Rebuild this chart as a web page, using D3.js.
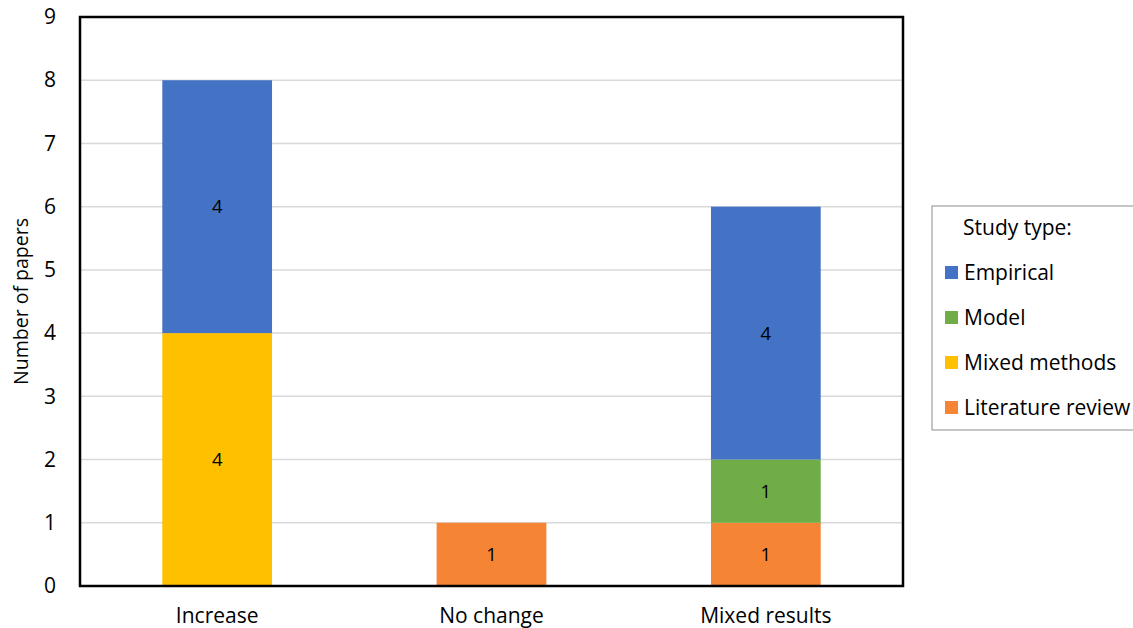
<!DOCTYPE html>
<html>
<head>
<meta charset="utf-8">
<script src="https://cdn.jsdelivr.net/npm/d3@7"></script>
<style>
  html, body { margin: 0; padding: 0; background: #fff; }
  svg { display: block; font-family: "Open Sans", "Noto Sans", sans-serif; }
</style>
</head>
<body>
<svg id="chart" width="1133" height="628"></svg>
<script>
// Outcome categories along the x axis
const categories = ["Increase", "No change", "Mixed results"];
// Study types, listed bottom-to-top in each stack
const studyTypes = ["Literature review", "Mixed methods", "Model", "Empirical"];
// Number of papers per study type, one value per category
const literatureReview = [0, 1, 1];
const mixedMethods = [4, 0, 0];
const model = [0, 0, 1];
const empirical = [4, 0, 4];
const yTicks = [0, 1, 2, 3, 4, 5, 6, 7, 8, 9];
const legendOrder = ["Empirical", "Model", "Mixed methods", "Literature review"];

const colors = {
  "Empirical": "#4472C4",
  "Model": "#70AD47",
  "Mixed methods": "#FFC000",
  "Literature review": "#F58535"
};

const seriesValues = {
  "Literature review": literatureReview,
  "Mixed methods": mixedMethods,
  "Model": model,
  "Empirical": empirical
};

const rows = categories.map((c, i) => {
  const r = { category: c };
  studyTypes.forEach(t => r[t] = seriesValues[t][i]);
  return r;
});

const svg = d3.select("#chart");
const margin = { left: 80, right: 230, top: 17, bottom: 42 };
const W = 1133, H = 628;
const x0 = margin.left, x1 = W - margin.right;
const y0 = H - margin.bottom, y1 = margin.top;

const x = d3.scaleBand().domain(categories).range([x0, x1]).paddingInner(0.6).paddingOuter(0.3);
const y = d3.scaleLinear().domain([0, 9]).range([y0, y1]);

// Horizontal gridlines
svg.append("g")
  .selectAll("line")
  .data(yTicks.filter(t => t > 0 && t < 9))
  .join("line")
  .attr("x1", x0).attr("x2", x1)
  .attr("y1", d => y(d)).attr("y2", d => y(d))
  .attr("stroke", "#d9d9d9").attr("stroke-width", 1.5);

// Stacked bars
const stack = d3.stack().keys(studyTypes)(rows);
const layers = svg.append("g").selectAll("g")
  .data(stack)
  .join("g")
  .attr("fill", d => colors[d.key]);

layers.selectAll("rect")
  .data(d => d.filter(s => s[1] - s[0] > 0))
  .join("rect")
  .attr("x", d => x(d.data.category))
  .attr("width", x.bandwidth())
  .attr("y", d => y(d[1]))
  .attr("height", d => y(d[0]) - y(d[1]));

// Segment value labels
layers.selectAll("text")
  .data(d => d.filter(s => s[1] - s[0] > 0))
  .join("text")
  .attr("x", d => x(d.data.category) + x.bandwidth() / 2)
  .attr("y", d => (y(d[0]) + y(d[1])) / 2)
  .attr("dy", "0.35em")
  .attr("text-anchor", "middle")
  .attr("fill", "#000")
  .attr("font-size", 18.5)
  .text(d => d[1] - d[0]);

// Plot frame
svg.append("rect")
  .attr("x", x0).attr("y", y1)
  .attr("width", x1 - x0).attr("height", y0 - y1)
  .attr("fill", "none").attr("stroke", "#000").attr("stroke-width", 2.5);

// Y axis tick labels
const yAxis = d3.axisLeft(y).tickValues(yTicks).tickSize(0).tickPadding(24).tickFormat(d3.format("d"));
svg.append("g")
  .attr("transform", `translate(${x0},0)`)
  .call(yAxis)
  .call(g => g.select(".domain").remove())
  .call(g => g.selectAll("text").attr("font-size", 21).attr("fill", "#000")
    .attr("font-family", "'Open Sans', sans-serif"));

// X axis category labels
const xAxis = d3.axisBottom(x).tickSize(0).tickPadding(22);
svg.append("g")
  .attr("transform", `translate(0,${y0})`)
  .call(xAxis)
  .call(g => g.select(".domain").remove())
  .call(g => g.selectAll("text").attr("font-size", 21).attr("fill", "#000")
    .attr("font-family", "'Open Sans', sans-serif"));

// Y axis title
svg.append("text")
  .attr("transform", `translate(28,${(y0 + y1) / 2}) rotate(-90)`)
  .attr("text-anchor", "middle")
  .attr("font-size", 19.5)
  .attr("fill", "#000")
  .text("Number of papers");

// Legend
const lg = svg.append("g").attr("transform", "translate(932,206)");
lg.append("rect")
  .attr("x", 0).attr("y", 0).attr("width", 215).attr("height", 224)
  .attr("fill", "#fff").attr("stroke", "#8c8c8c").attr("stroke-width", 1);
lg.append("text")
  .attr("x", 31).attr("y", 22).attr("dy", "0.35em")
  .attr("font-size", 21).attr("fill", "#000")
  .text("Study type:");
const items = lg.selectAll("g.item")
  .data(legendOrder)
  .join("g")
  .attr("class", "item")
  .attr("transform", (d, i) => `translate(13,${67 + i * 45})`);
items.append("rect")
  .attr("x", 0).attr("y", -7).attr("width", 13).attr("height", 13)
  .attr("fill", d => colors[d]);
items.append("text")
  .attr("x", 19).attr("y", 0).attr("dy", "0.35em")
  .attr("font-size", 21).attr("fill", "#000")
  .text(d => d);
</script>
</body>
</html>
